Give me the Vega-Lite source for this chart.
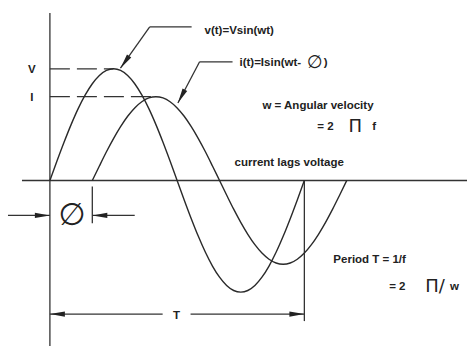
{
  "$schema": "https://vega.github.io/schema/vega-lite/v6.json",
  "width": 468,
  "height": 347,
  "autosize": {"type": "fit", "contains": "padding"},
  "padding": 0,
  "background": "white",
  "config": {"view": {"stroke": null}},
  "datasets": {
    "curves": [
      {"s": "v", "x": 0, "y": 0}, {"s": "v", "x": 10, "y": 0.174}, {"s": "v", "x": 20, "y": 0.342}, {"s": "v", "x": 30, "y": 0.5},
      {"s": "v", "x": 40, "y": 0.643}, {"s": "v", "x": 50, "y": 0.766}, {"s": "v", "x": 60, "y": 0.866}, {"s": "v", "x": 70, "y": 0.94},
      {"s": "v", "x": 80, "y": 0.985}, {"s": "v", "x": 90, "y": 1}, {"s": "v", "x": 100, "y": 0.985}, {"s": "v", "x": 110, "y": 0.94},
      {"s": "v", "x": 120, "y": 0.866}, {"s": "v", "x": 130, "y": 0.766}, {"s": "v", "x": 140, "y": 0.643}, {"s": "v", "x": 150, "y": 0.5},
      {"s": "v", "x": 160, "y": 0.342}, {"s": "v", "x": 170, "y": 0.174}, {"s": "v", "x": 180, "y": 0}, {"s": "v", "x": 190, "y": -0.174},
      {"s": "v", "x": 200, "y": -0.342}, {"s": "v", "x": 210, "y": -0.5}, {"s": "v", "x": 220, "y": -0.643}, {"s": "v", "x": 230, "y": -0.766},
      {"s": "v", "x": 240, "y": -0.866}, {"s": "v", "x": 250, "y": -0.94}, {"s": "v", "x": 260, "y": -0.985}, {"s": "v", "x": 270, "y": -1},
      {"s": "v", "x": 280, "y": -0.985}, {"s": "v", "x": 290, "y": -0.94}, {"s": "v", "x": 300, "y": -0.866}, {"s": "v", "x": 310, "y": -0.766},
      {"s": "v", "x": 320, "y": -0.643}, {"s": "v", "x": 330, "y": -0.5}, {"s": "v", "x": 340, "y": -0.342}, {"s": "v", "x": 350, "y": -0.174},
      {"s": "v", "x": 360, "y": 0},
      {"s": "i", "x": 60, "y": 0}, {"s": "i", "x": 70, "y": 0.13}, {"s": "i", "x": 80, "y": 0.257}, {"s": "i", "x": 90, "y": 0.375},
      {"s": "i", "x": 100, "y": 0.482}, {"s": "i", "x": 110, "y": 0.575}, {"s": "i", "x": 120, "y": 0.65}, {"s": "i", "x": 130, "y": 0.705},
      {"s": "i", "x": 140, "y": 0.739}, {"s": "i", "x": 150, "y": 0.75}, {"s": "i", "x": 160, "y": 0.739}, {"s": "i", "x": 170, "y": 0.705},
      {"s": "i", "x": 180, "y": 0.65}, {"s": "i", "x": 190, "y": 0.575}, {"s": "i", "x": 200, "y": 0.482}, {"s": "i", "x": 210, "y": 0.375},
      {"s": "i", "x": 220, "y": 0.257}, {"s": "i", "x": 230, "y": 0.13}, {"s": "i", "x": 240, "y": 0}, {"s": "i", "x": 250, "y": -0.13},
      {"s": "i", "x": 260, "y": -0.257}, {"s": "i", "x": 270, "y": -0.375}, {"s": "i", "x": 280, "y": -0.482}, {"s": "i", "x": 290, "y": -0.575},
      {"s": "i", "x": 300, "y": -0.65}, {"s": "i", "x": 310, "y": -0.705}, {"s": "i", "x": 320, "y": -0.739}, {"s": "i", "x": 330, "y": -0.75},
      {"s": "i", "x": 340, "y": -0.739}, {"s": "i", "x": 350, "y": -0.705}, {"s": "i", "x": 360, "y": -0.65}, {"s": "i", "x": 370, "y": -0.575},
      {"s": "i", "x": 380, "y": -0.482}, {"s": "i", "x": 390, "y": -0.375}, {"s": "i", "x": 400, "y": -0.257}, {"s": "i", "x": 410, "y": -0.13},
      {"s": "i", "x": 420, "y": 0}
    ],
    "solid": [
      {"x": 0, "y": -1.482, "x2": 0, "y2": 1.5},
      {"x": -39.5, "y": 0, "x2": 590.1, "y2": 0},
      {"x": 200.5, "y": 1.375, "x2": 141.2, "y2": 1.375},
      {"x": 141.2, "y": 1.375, "x2": 99.8, "y2": 1.006},
      {"x": 258.4, "y": 1.0625, "x2": 211.8, "y2": 1.0625},
      {"x": 211.8, "y": 1.0625, "x2": 181.1, "y2": 0.694},
      {"x": -59.3, "y": -0.3125, "x2": 0, "y2": -0.3125},
      {"x": 120, "y": -0.3125, "x2": 60, "y2": -0.3125},
      {"x": 60, "y": -0.054, "x2": 60, "y2": -0.384},
      {"x": 0, "y": -1.196, "x2": 159.5, "y2": -1.196},
      {"x": 199, "y": -1.196, "x2": 360, "y2": -1.196},
      {"x": 360, "y": 0, "x2": 360, "y2": -1.259}
    ],
    "dashed": [
      {"x": 0, "y": 1, "x2": 90, "y2": 1},
      {"x": 0, "y": 0.75, "x2": 150, "y2": 0.75}
    ],
    "heads": [
      {"x": 99.8, "y": 1.006, "dir": 215.4},
      {"x": 181.1, "y": 0.694, "dir": 207.7},
      {"x": 0, "y": -0.3125, "dir": 90},
      {"x": 60, "y": -0.3125, "dir": 270},
      {"x": 0, "y": -1.196, "dir": 270},
      {"x": 360, "y": -1.196, "dir": 90}
    ],
    "labels": [
      {"t": "v(t)=Vsin(wt)", "x": 218.8, "y": 1.339},
      {"t": "i(t)=Isin(wt-", "x": 268.2, "y": 1.054},
      {"t": ")", "x": 387.5, "y": 1.054},
      {"t": "w = Angular velocity", "x": 300.7, "y": 0.67},
      {"t": "= 2", "x": 378.4, "y": 0.482},
      {"t": "f", "x": 456, "y": 0.482},
      {"t": "current lags voltage", "x": 261.2, "y": 0.161},
      {"t": "Period T = 1/f", "x": 401, "y": -0.714},
      {"t": "= 2", "x": 480, "y": -0.955},
      {"t": "w", "x": 566.1, "y": -0.955}
    ],
    "marks": [
      {"t": "V", "x": -25.4, "y": 0.991},
      {"t": "I", "x": -25.4, "y": 0.741},
      {"t": "T", "x": 179.3, "y": -1.214}
    ],
    "symbols": [
      {"t": "∅", "x": 375, "y": 1.054},
      {"t": "Π", "x": 432, "y": 0.482},
      {"t": "Π/", "x": 545, "y": -0.955}
    ],
    "phase": [
      {"t": "∅", "x": 31.1, "y": -0.321}
    ]
  },
  "encoding": {
    "x": {"field": "x", "type": "quantitative", "scale": {"domain": [-70.6, 590.1], "nice": false, "zero": false}, "axis": null},
    "y": {"field": "y", "type": "quantitative", "scale": {"domain": [-1.482, 1.616], "nice": false, "zero": false}, "axis": null}
  },
  "layer": [
    {
      "data": {"name": "solid"},
      "mark": {"type": "rule", "color": "#333", "strokeWidth": 1.3},
      "encoding": {"x2": {"field": "x2"}, "y2": {"field": "y2"}}
    },
    {
      "data": {"name": "dashed"},
      "mark": {"type": "rule", "color": "#333", "strokeWidth": 1.3, "strokeDash": [20, 7]},
      "encoding": {"x2": {"field": "x2"}, "y2": {"field": "y2"}}
    },
    {
      "data": {"name": "curves"},
      "mark": {"type": "line", "color": "#2a2a2a", "strokeWidth": 1.4, "interpolate": "monotone"},
      "encoding": {"detail": {"field": "s"}, "order": {"field": "x"}}
    },
    {
      "data": {"name": "heads"},
      "mark": {"type": "point", "shape": "M0,0L0.35,2L-0.35,2Z", "filled": true, "color": "#222", "opacity": 1, "size": 225, "strokeWidth": 0},
      "encoding": {"angle": {"field": "dir", "type": "quantitative", "scale": null}}
    },
    {
      "data": {"name": "labels"},
      "mark": {"type": "text", "align": "left", "baseline": "middle", "font": "Liberation Sans", "fontWeight": "bold", "fontSize": 11.5, "color": "#222"},
      "encoding": {"text": {"field": "t"}}
    },
    {
      "data": {"name": "marks"},
      "mark": {"type": "text", "align": "center", "baseline": "middle", "font": "Liberation Sans", "fontWeight": "bold", "fontSize": 11.5, "color": "#222"},
      "encoding": {"text": {"field": "t"}}
    },
    {
      "data": {"name": "symbols"},
      "mark": {"type": "text", "align": "center", "baseline": "middle", "font": "DejaVu Sans", "fontSize": 18, "color": "#222"},
      "encoding": {"text": {"field": "t"}}
    },
    {
      "data": {"name": "phase"},
      "mark": {"type": "text", "align": "center", "baseline": "middle", "font": "DejaVu Sans", "fontSize": 31, "color": "#222"},
      "encoding": {"text": {"field": "t"}}
    }
  ]
}
